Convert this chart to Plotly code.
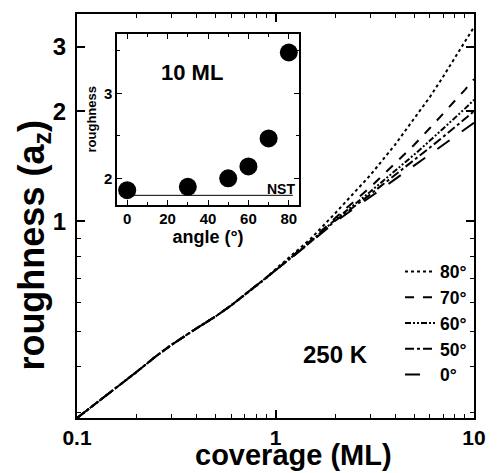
import plotly.graph_objects as go

# ---- main panel data (coverage in ML, roughness in a_z) ----
cov_low = [0.1, 0.15, 0.2, 0.25, 0.3, 0.4, 0.5, 0.6, 0.7, 0.8, 0.9]
rough_low = [0.29, 0.343, 0.388, 0.428, 0.46, 0.51, 0.55, 0.59, 0.63, 0.665, 0.70]

cov_high = [1.0, 1.5, 2, 3, 4, 5, 6, 7, 8, 9, 10]
rough_80 = [0.74, 0.895, 1.053, 1.337, 1.62, 1.905, 2.19, 2.49, 2.79, 3.09, 3.40]
rough_70 = [0.735, 0.885, 1.022, 1.24, 1.44, 1.62, 1.80, 1.97, 2.13, 2.29, 2.45]
rough_60 = [0.735, 0.88, 1.011, 1.205, 1.372, 1.523, 1.663, 1.793, 1.917, 2.034, 2.15]
rough_50 = [0.735, 0.878, 1.004, 1.185, 1.337, 1.471, 1.592, 1.704, 1.809, 1.906, 2.00]
rough_0 = [0.735, 0.875, 0.997, 1.166, 1.302, 1.420, 1.524, 1.618, 1.705, 1.785, 1.86]

series_names = ["80°", "70°", "60°", "50°", "0°"]
series_high = [rough_80, rough_70, rough_60, rough_50, rough_0]
series_dash = ["dot", "dash", "6px,2px,2px,2px,2px,2px", "dashdot", "longdash"]

x_ticks = [0.1, 1, 10]
x_ticklabels = ["0.1", "1", "10"]
y_ticks = [1, 2, 3]
y_ticklabels = ["1", "2", "3"]

# ---- inset data (10 ML) ----
angles = [0, 30, 50, 60, 70, 80]
rough_10ML = [1.86, 1.90, 2.00, 2.14, 2.47, 3.48]
nst_value = 1.80
nst_angles = [0, 82]

BLACK = "black"
FONT = "Liberation Sans, Arial, sans-serif"

fig = go.Figure()

for name, yh, dash in zip(series_names, series_high, series_dash):
    fig.add_trace(go.Scatter(
        x=cov_low + cov_high, y=rough_low + yh, mode="lines", name=name,
        line=dict(color=BLACK, width=2, dash=dash),
        xaxis="x", yaxis="y"))

fig.add_trace(go.Scatter(
    x=nst_angles, y=[nst_value, nst_value], mode="lines", showlegend=False,
    line=dict(color=BLACK, width=1), xaxis="x2", yaxis="y2"))
fig.add_trace(go.Scatter(
    x=angles, y=rough_10ML, mode="markers", showlegend=False,
    marker=dict(color=BLACK, size=18), xaxis="x2", yaxis="y2"))

tickfont_main = dict(family=FONT, size=21, color=BLACK, weight="bold")
tickfont_inset = dict(family=FONT, size=15, color=BLACK, weight="bold")

fig.update_layout(
    width=498, height=473,
    margin=dict(l=77, r=15, t=13, b=55),
    paper_bgcolor="white", plot_bgcolor="white",
    font=dict(family=FONT, color=BLACK),
    xaxis=dict(
        type="log", range=[-1, 1], domain=[0, 1],
        tickvals=x_ticks, ticktext=x_ticklabels, tickfont=tickfont_main,
        ticks="inside", ticklen=8, tickwidth=1.5, tickcolor=BLACK,
        minor=dict(tickvals=[0.2, 0.3, 0.4, 0.5, 0.6, 0.7, 0.8, 0.9, 2, 3, 4, 5, 6, 7, 8, 9],
                   ticks="inside", ticklen=4, tickwidth=1, tickcolor=BLACK, showgrid=False),
        showline=True, linewidth=2, linecolor=BLACK, mirror="ticks",
        showgrid=False, zeroline=False,
    ),
    yaxis=dict(
        type="log", range=[-0.5376, 0.5671], domain=[0, 1],
        tickvals=y_ticks, ticktext=y_ticklabels, tickfont=dict(family=FONT, size=24, color=BLACK, weight="bold"),
        ticks="inside", ticklen=8, tickwidth=1.5, tickcolor=BLACK, ticklabelstandoff=4,
        minor=dict(tickvals=[0.3, 0.4, 0.5, 0.6, 0.7, 0.8, 0.9],
                   ticks="inside", ticklen=4, tickwidth=1, tickcolor=BLACK, showgrid=False),
        showline=True, linewidth=2, linecolor=BLACK, mirror="ticks",
        showgrid=False, zeroline=False,
    ),
    xaxis2=dict(
        anchor="y2", domain=[0.101, 0.559], range=[-5, 85],
        tickvals=[0, 20, 40, 60, 80], tickfont=tickfont_inset,
        ticks="inside", ticklen=5, tickwidth=1, tickcolor=BLACK,
        minor=dict(tickvals=[10, 30, 50, 70], ticks="inside", ticklen=3, tickcolor=BLACK, showgrid=False),
        showline=True, linewidth=1.5, linecolor=BLACK, mirror="ticks",
        showgrid=False, zeroline=False,
        title=dict(text="angle (°)", font=dict(family=FONT, size=18, color=BLACK, weight="bold"), standoff=2),
    ),
    yaxis2=dict(
        anchor="x2", domain=[0.528, 0.951], range=[1.69, 3.7],
        tickvals=[2, 3], tickfont=tickfont_inset,
        ticks="inside", ticklen=5, tickwidth=1, tickcolor=BLACK,
        minor=dict(tickvals=[2.5, 3.5], ticks="inside", ticklen=3, tickcolor=BLACK, showgrid=False),
        showline=True, linewidth=1.5, linecolor=BLACK, mirror="ticks",
        showgrid=False, zeroline=False,
        title=dict(text="roughness", font=dict(family=FONT, size=13, color=BLACK, weight="bold"), standoff=4),
    ),
    legend=dict(
        x=0.995, xanchor="right", y=0.407, yanchor="top",
        bgcolor="rgba(0,0,0,0)", borderwidth=0,
        font=dict(family=FONT, size=17.5, color=BLACK, weight="bold"),
        itemwidth=30, tracegroupgap=0,
    ),
    annotations=[
        dict(text="coverage (ML)", x=0.545, y=-0.1358, xref="paper", yref="paper",
             xanchor="center", yanchor="bottom", showarrow=False,
             font=dict(family=FONT, size=29, color=BLACK, weight="bold")),
        dict(text="roughness (a<sub>z</sub>)", x=-0.108, y=0.427, xref="paper", yref="paper",
             xanchor="center", yanchor="middle", textangle=-90, showarrow=False,
             font=dict(family=FONT, size=36, color=BLACK, weight="bold")),
        dict(text="250 K", x=0.652, y=0.1185, xref="paper", yref="paper", showarrow=False,
             font=dict(family=FONT, size=24, color=BLACK, weight="bold")),
        dict(text="10 ML", x=32, y=3.25, xref="x2", yref="y2", showarrow=False,
             font=dict(family=FONT, size=22, color=BLACK, weight="bold")),
        dict(text="NST", x=76, y=1.88, xref="x2", yref="y2", showarrow=False,
             font=dict(family=FONT, size=14, color=BLACK, weight="bold")),
    ],
)

fig.write_html(
    "out.html",
    config={"displayModeBar": False},
    post_script="document.body.style.margin='0';document.body.style.overflow='hidden';",
)
